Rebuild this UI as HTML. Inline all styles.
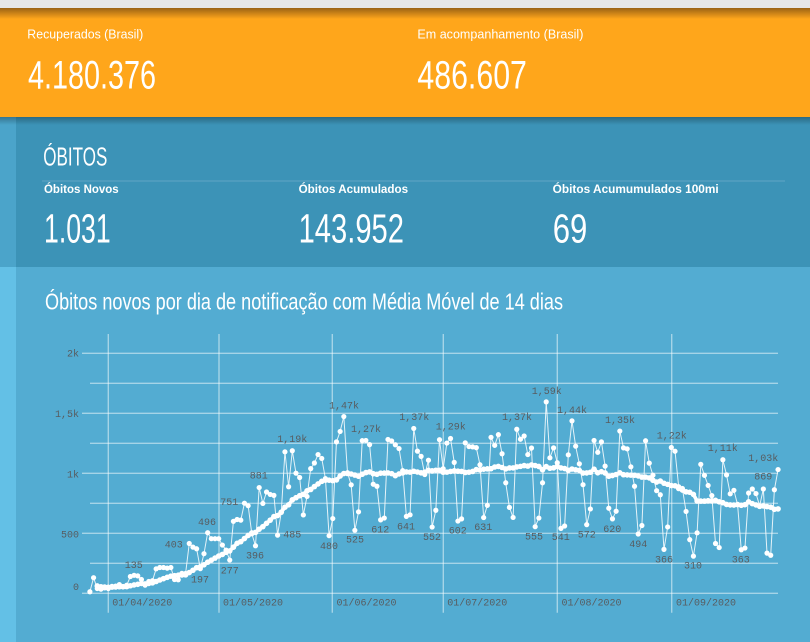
<!DOCTYPE html>
<html>
<head>
<meta charset="utf-8">
<style>
html,body{margin:0;padding:0;width:810px;height:642px;overflow:hidden;background:#53acd2;}
svg{display:block;}
.w{fill:#ffffff;}
.lbl{font-family:"Liberation Mono",monospace;font-size:10px;fill:#585c60;}
</style>
</head>
<body>
<svg id="s" width="810" height="642" viewBox="0 0 810 642" xmlns="http://www.w3.org/2000/svg" font-family="'Liberation Sans', sans-serif">
<defs>
<linearGradient id="gTop" x1="0" y1="0" x2="0" y2="1">
<stop offset="0" stop-color="#9a6214"/>
<stop offset="1" stop-color="#ffa61b"/>
</linearGradient>
<linearGradient id="gSh" x1="0" y1="0" x2="0" y2="1">
<stop offset="0" stop-color="#000" stop-opacity="0.28"/>
<stop offset="1" stop-color="#000" stop-opacity="0"/>
</linearGradient>
</defs>
<!-- backgrounds -->
<rect x="0" y="0" width="810" height="642" fill="#53acd2"/>
<rect x="0" y="267" width="16" height="375" fill="#63c0e6"/>
<rect x="0" y="0" width="810" height="8" fill="#e6e6e6"/>
<rect x="0" y="8" width="810" height="109" fill="#ffa61b"/>
<rect x="0" y="8" width="810" height="11" fill="url(#gTop)"/>
<rect x="0" y="117" width="810" height="150" fill="#3c93b7"/>
<rect x="0" y="117" width="16" height="150" fill="#4ba4ca"/>
<rect x="0" y="117" width="810" height="8" fill="url(#gSh)"/>

<!-- header -->
<text class="w" x="27.3" y="38.3" font-size="12.5" textLength="116" lengthAdjust="spacingAndGlyphs">Recuperados (Brasil)</text>
<text class="w" x="28" y="88.3" font-size="39.5" textLength="128" lengthAdjust="spacingAndGlyphs">4.180.376</text>
<text class="w" x="417.4" y="38.3" font-size="12.5" textLength="166" lengthAdjust="spacingAndGlyphs">Em acompanhamento (Brasil)</text>
<text class="w" x="417.4" y="88.3" font-size="39.5" textLength="109.5" lengthAdjust="spacingAndGlyphs">486.607</text>

<!-- óbitos -->
<text class="w" x="43.3" y="165.7" font-size="26" textLength="64" lengthAdjust="spacingAndGlyphs">ÓBITOS</text>
<line x1="42" y1="181" x2="785" y2="181" stroke="#ffffff" stroke-opacity="0.18" stroke-width="1"/>
<text class="w" x="44" y="193" font-size="11.5" font-weight="bold" textLength="74.7" lengthAdjust="spacingAndGlyphs">Óbitos Novos</text>
<text class="w" x="298.6" y="193" font-size="11.5" font-weight="bold" textLength="109.5" lengthAdjust="spacingAndGlyphs">Óbitos Acumulados</text>
<text class="w" x="552.7" y="193" font-size="11.5" font-weight="bold" textLength="166" lengthAdjust="spacingAndGlyphs">Óbitos Acumumulados 100mi</text>
<text class="w" x="44" y="242.3" font-size="41" textLength="66.7" lengthAdjust="spacingAndGlyphs">1.031</text>
<text class="w" x="298.6" y="242.3" font-size="41" textLength="105.4" lengthAdjust="spacingAndGlyphs">143.952</text>
<text class="w" x="552.7" y="242.3" font-size="41" textLength="34.6" lengthAdjust="spacingAndGlyphs">69</text>

<!-- chart title -->
<text class="w" x="45" y="309.3" font-size="23" textLength="518" lengthAdjust="spacingAndGlyphs">Óbitos novos por dia de notificação com Média Móvel de 14 dias</text>

<!-- grid -->
<g stroke="#ffffff" stroke-opacity="0.48" stroke-width="1.4">
<line x1="90" y1="353.3" x2="778" y2="353.3"/>
<line x1="90" y1="383.3" x2="778" y2="383.3"/>
<line x1="90" y1="413.3" x2="778" y2="413.3"/>
<line x1="90" y1="443.3" x2="778" y2="443.3"/>
<line x1="90" y1="473.3" x2="778" y2="473.3"/>
<line x1="90" y1="503.3" x2="778" y2="503.3"/>
<line x1="90" y1="533.3" x2="778" y2="533.3"/>
<line x1="90" y1="563.3" x2="778" y2="563.3"/>
<line x1="90" y1="593.3" x2="778" y2="593.3"/>
<line x1="82" y1="353.3" x2="90" y2="353.3"/>
<line x1="82" y1="413.3" x2="90" y2="413.3"/>
<line x1="82" y1="473.3" x2="90" y2="473.3"/>
<line x1="82" y1="533.3" x2="90" y2="533.3"/>
<line x1="82" y1="593.3" x2="90" y2="593.3"/>
<line x1="108.3" y1="334" x2="108.3" y2="612.7"/>
<line x1="219" y1="334" x2="219" y2="612.7"/>
<line x1="332.3" y1="334" x2="332.3" y2="612.7"/>
<line x1="443.3" y1="334" x2="443.3" y2="612.7"/>
<line x1="557.3" y1="334" x2="557.3" y2="612.7"/>
<line x1="671.7" y1="334" x2="671.7" y2="612.7"/>
</g>

<!-- axis labels -->
<g class="lbl" text-anchor="end">
<text x="79" y="356.5">2k</text>
<text x="79" y="416.8">1,5k</text>
<text x="79" y="477.3">1k</text>
<text x="79" y="537.6">500</text>
<text x="79" y="590">0</text>
</g>
<g class="lbl">
<text x="112.3" y="605.5">01/04/2020</text>
<text x="223" y="605.5">01/05/2020</text>
<text x="336.5" y="605.5">01/06/2020</text>
<text x="447.3" y="605.5">01/07/2020</text>
<text x="561.5" y="605.5">01/08/2020</text>
<text x="676" y="605.5">01/09/2020</text>
</g>

<g id="series"></g>

<!-- data labels -->
<g class="lbl" text-anchor="middle">
<text x="133.7" y="567.8">135</text>
<text x="173.7" y="547.5">403</text>
<text x="200" y="582.5">197</text>
<text x="207" y="524.8">496</text>
<text x="229.7" y="573.5">277</text>
<text x="229.3" y="504.8">751</text>
<text x="255" y="558.5">396</text>
<text x="258.7" y="478.5">881</text>
<text x="292.3" y="441.8">1,19k</text>
<text x="292.3" y="537.5">485</text>
<text x="329" y="548.8">480</text>
<text x="344" y="408.5">1,47k</text>
<text x="355" y="542.5">525</text>
<text x="366" y="431.8">1,27k</text>
<text x="380.3" y="532.5">612</text>
<text x="406" y="529.5">641</text>
<text x="414.3" y="420.2">1,37k</text>
<text x="432" y="540.2">552</text>
<text x="450.7" y="429.5">1,29k</text>
<text x="457.7" y="533.5">602</text>
<text x="483.3" y="530.2">631</text>
<text x="517" y="420.2">1,37k</text>
<text x="534" y="539.5">555</text>
<text x="546.7" y="394.2">1,59k</text>
<text x="560.7" y="540.2">541</text>
<text x="572" y="412.8">1,44k</text>
<text x="586.7" y="537.5">572</text>
<text x="620" y="422.8">1,35k</text>
<text x="612.3" y="531.8">620</text>
<text x="638.3" y="546.8">494</text>
<text x="671.7" y="438.5">1,22k</text>
<text x="664" y="562.5">366</text>
<text x="693" y="568.5">310</text>
<text x="722.7" y="451.2">1,11k</text>
<text x="740.7" y="562.5">363</text>
<text x="763.3" y="460.8">1,03k</text>
<text x="763.3" y="479.5">869</text>
</g>
</svg>
<script>
(function(){
var d=[13,130,40,35,45,
40,58,60,73,54,67,140,150,145,115,68,99,105,204,215,215,210,215,115,113,166,165,415,385,371,205,330,505,455,455,
455,402,360,277,600,615,610,751,730,496,396,881,749,844,824,816,485,674,1179,888,1188,1001,965,653,807,1039,1086,1156,1124,956,480,
623,1262,1349,1473,1005,904,525,679,1272,1274,1239,909,892,612,627,1282,1269,1238,1206,1022,641,654,1374,1185,1141,990,1109,552,692,1280,
1038,1252,1290,1091,602,620,1254,1223,1220,1214,1071,631,733,1300,1233,1322,1163,921,716,632,1367,1284,1311,1156,1211,555,627,921,1595,1129,1212,
1088,541,561,1154,1437,1226,1079,905,572,703,1274,1175,1262,1060,709,620,684,1352,1212,1204,1054,892,494,565,1271,1085,984,855,821,366,553,
1215,1184,888,874,682,447,310,504,1075,983,899,814,415,381,1113,987,829,858,739,363,377,836,869,831,729,869,335,317,863,1031];
function X(i){return 108.3+3.68*(i-5);}
function Y(v){return 593.3-v*0.12;}
var NS="http://www.w3.org/2000/svg";
var g=document.getElementById("series");
function el(n,a){var e=document.createElementNS(NS,n);for(var k in a)e.setAttribute(k,a[k]);g.appendChild(e);return e;}
var dp=[],mp=[],ma=[];
for(var i=0;i<d.length;i++){
  dp.push(X(i).toFixed(2)+","+Y(d[i]).toFixed(2));
  if(i>=2){var s=0,c=0;for(var j=Math.max(0,i-13);j<=i;j++){s+=d[j];c++;}
    var m=s/c;ma.push([X(i),Y(m)]);mp.push(X(i).toFixed(2)+","+Y(m).toFixed(2));}
}
el("polyline",{points:dp.join(" "),fill:"none",stroke:"#ffffff","stroke-opacity":"0.85","stroke-width":"1","stroke-linejoin":"round"});
el("polyline",{points:mp.join(" "),fill:"none",stroke:"#ffffff","stroke-width":"3.6","stroke-linejoin":"round","stroke-linecap":"round"});
for(var k=0;k<ma.length;k++){el("circle",{cx:ma[k][0].toFixed(2),cy:ma[k][1].toFixed(2),r:"2.8",fill:"#ffffff"});}
for(var i2=0;i2<d.length;i2++){el("circle",{cx:X(i2).toFixed(2),cy:Y(d[i2]).toFixed(2),r:"2.6",fill:"#ffffff"});}
})();
</script>
</body>
</html>
